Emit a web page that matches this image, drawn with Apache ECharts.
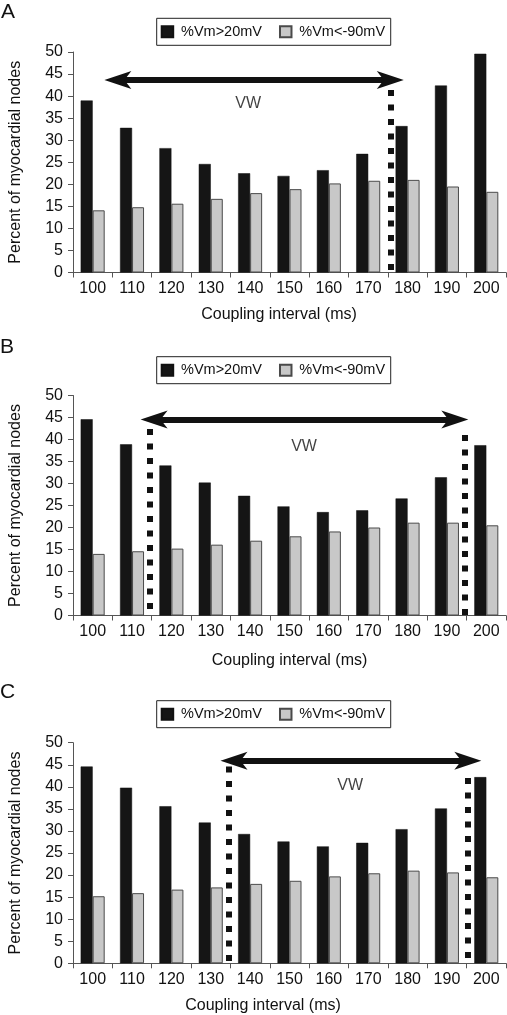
<!DOCTYPE html>
<html><head><meta charset="utf-8">
<script src="https://cdn.jsdelivr.net/npm/echarts@6/dist/echarts.min.js"></script>
<style>html,body{margin:0;padding:0;background:#fff}#c{width:507px;height:1015px}</style>
</head><body><div id="c"></div>
<script>
// ---------- data ----------
const categories = ['100','110','120','130','140','150','160','170','180','190','200'];
const seriesNames = ['%Vm>20mV', '%Vm<-90mV'];
const panelLabels = ['A', 'B', 'C'];
const xTitle = 'Coupling interval (ms)';
const yTitle = 'Percent of myocardial nodes';
const vwText = 'VW';

const aboveA = [39.0, 32.8, 28.2, 24.6, 22.5, 21.9, 23.2, 26.9, 33.2, 42.4, 49.6];
const belowA = [14.1, 14.8, 15.6, 16.7, 18.0, 18.9, 20.2, 20.8, 21.0, 19.5, 18.3];
const aboveB = [44.6, 38.9, 34.1, 30.2, 27.2, 24.8, 23.5, 23.9, 26.6, 31.4, 38.7];
const belowB = [14.0, 14.6, 15.2, 16.1, 17.0, 18.0, 19.1, 20.0, 21.1, 21.1, 20.5];
const aboveC = [44.6, 39.8, 35.6, 31.9, 29.3, 27.6, 26.5, 27.3, 30.4, 35.1, 42.2];
const belowC = [15.2, 15.9, 16.7, 17.2, 18.0, 18.7, 19.7, 20.4, 21.0, 20.6, 19.5];

// annotations, x in category-band units (0 = left edge of "100" band, 11 = right edge of "200")
// arrow: [left head centre, right head centre]
const arrowA = [[1.14, 43.65], [8.06, 43.65]];
const arrowB = [[2.06, 44.55], [9.70, 44.55]];
const arrowC = [[4.09, 45.9], [10.03, 45.9]];
const dotsA = [[[8.06, 41.4], [8.06, 0]]];
const dotsB = [[[1.94, 42.4], [1.94, 1.3]], [[9.95, 41.0], [9.95, 0]]];
const dotsC = [[[3.96, 44.6], [3.96, 0]], [[10.03, 42.0], [10.03, 1.2]]];
const vwA = [4.45, 38.2];
const vwB = [5.87, 38.4];
const vwC = [7.04, 40.2];

const yTicks = {min: 0, max: 50, interval: 5};

// ---------- layout ----------
const FONT = '"Liberation Sans", Arial, Helvetica, sans-serif';
const TXT = '#111';
const AXIS = '#555';
const HEAD = 'path://M9,0 L18,27 L9,20 L0,27 Z';
const panels = [
  {above: aboveA, below: belowA, arrow: arrowA, dots: dotsA, vw: vwA,
   top: 52, height: 220.5, legendTop: 18.3, letterTop: 1.5, letterLeft: 1, titleShift: 10.5, nameGap: 34},
  {above: aboveB, below: belowB, arrow: arrowB, dots: dotsB, vw: vwB,
   top: 395.5, height: 220, legendTop: 356.7, letterTop: 336.5, letterLeft: 0, titleShift: 0, nameGap: 37},
  {above: aboveC, below: belowC, arrow: arrowC, dots: dotsC, vw: vwC,
   top: 742.7, height: 220.6, legendTop: 700.7, letterTop: 681.5, letterLeft: 0, titleShift: 26.5, nameGap: 34}
];

const grid = [], xAxis = [], yAxis = [], series = [], legend = [], title = [];
panels.forEach((p, i) => {
  grid.push({left: 59, right: 1, top: p.top, height: p.height, containLabel: false});
  title.push({text: panelLabels[i], left: p.letterLeft, top: p.letterTop, padding: 0,
    textStyle: {fontFamily: FONT, fontSize: 21, fontWeight: 'normal', color: TXT}});
  legend.push({
    data: seriesNames, left: 156.7, top: p.legendTop, orient: 'horizontal', icon: 'rect',
    padding: [6, 5.6, 6, 4], itemGap: 17, itemWidth: 11.5, itemHeight: 11,
    borderColor: '#222', borderWidth: 1, backgroundColor: '#fff', selectedMode: false,
    textStyle: {fontFamily: FONT, fontSize: 14.5, color: TXT, padding: [0, 0, 0, 2.8]}
  });
  xAxis.push({
    type: 'category', data: categories, gridIndex: i,
    name: xTitle, nameLocation: 'middle', nameGap: p.nameGap,
    nameTextStyle: {fontFamily: FONT, fontSize: 16, color: TXT, padding: [0, 2 * p.titleShift, 0, 0]},
    axisLine: {lineStyle: {color: AXIS, width: 1}},
    axisTick: {show: true, length: 5, lineStyle: {color: AXIS}},
    axisLabel: {fontFamily: FONT, fontSize: 16, color: TXT, margin: 8},
    splitLine: {show: false}
  });
  yAxis.push({
    type: 'value', gridIndex: i, min: yTicks.min, max: yTicks.max, interval: yTicks.interval,
    name: yTitle, nameLocation: 'middle', nameGap: 49,
    nameTextStyle: {fontFamily: FONT, fontSize: 16, color: TXT},
    axisLine: {show: true, lineStyle: {color: AXIS, width: 1}},
    axisTick: {show: true, length: 5, lineStyle: {color: AXIS}},
    axisLabel: {fontFamily: FONT, fontSize: 16, color: TXT, margin: 10},
    splitLine: {show: false}
  });
  series.push({
    type: 'bar', name: seriesNames[0], xAxisIndex: i, yAxisIndex: i, data: p.above,
    barWidth: 12, barGap: '0%', itemStyle: {color: '#151515', borderColor: '#111', borderWidth: 0.5},
    silent: true
  });
  series.push({
    type: 'bar', name: seriesNames[1], xAxisIndex: i, yAxisIndex: i, data: p.below,
    barWidth: 12, barGap: '0%', itemStyle: {color: '#c8c8c8', borderColor: '#4a4a4a', borderWidth: 1},
    silent: true
  });
});
// hidden value axes for the annotations (one per panel)
panels.forEach((p, i) => {
  xAxis.push({type: 'value', gridIndex: i, min: 0, max: 11, show: false});
  const xi = panels.length + i;
  series.push({
    type: 'lines', coordinateSystem: 'cartesian2d', xAxisIndex: xi, yAxisIndex: i, z: 5, silent: true,
    data: p.dots.map(c => ({coords: c})), symbol: 'none',
    lineStyle: {color: '#111', width: 6, type: [6, 8.5], cap: 'butt', opacity: 1}
  });
  series.push({
    type: 'lines', coordinateSystem: 'cartesian2d', xAxisIndex: xi, yAxisIndex: i, z: 6, silent: true,
    data: [{coords: p.arrow}], symbol: 'none',
    lineStyle: {color: '#111', width: 6, opacity: 1}
  });
  series.push({
    type: 'scatter', xAxisIndex: xi, yAxisIndex: i, z: 7, silent: true,
    symbol: HEAD, symbolSize: [18, 27], itemStyle: {color: '#111', opacity: 1},
    data: [{value: p.arrow[0], symbolRotate: 90}, {value: p.arrow[1], symbolRotate: -90}]
  });
  series.push({
    type: 'scatter', xAxisIndex: xi, yAxisIndex: i, data: [p.vw], symbolSize: 0, silent: true,
    label: {show: true, position: 'inside', formatter: vwText, fontFamily: FONT, fontSize: 16, color: TXT}
  });
});

const chart = echarts.init(document.getElementById('c'), null, {renderer: 'canvas'});
chart.setOption({animation: false, backgroundColor: '#fff', title, legend, grid, xAxis, yAxis, series});
</script>
</body></html>
